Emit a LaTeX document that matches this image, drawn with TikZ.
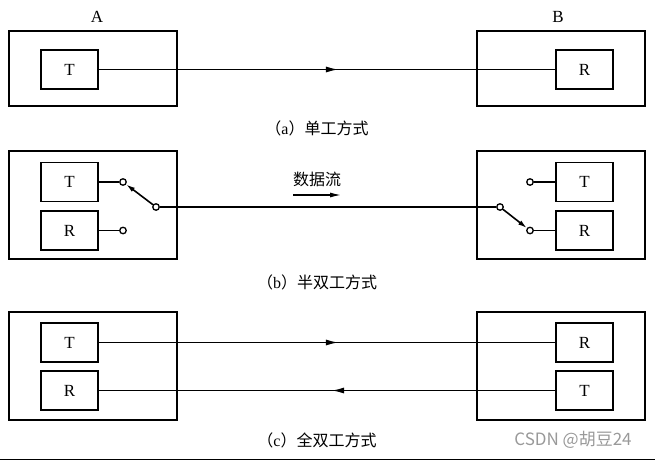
\documentclass[tikz,border=0pt]{standalone}
\usepackage{fontspec}
\setmainfont{Liberation Serif}
\newfontfamily\cjk{Noto Sans CJK SC}
\usetikzlibrary{arrows.meta,decorations.markings}
\tikzset{
  outer/.style={draw, line width=1.3pt, minimum width=168pt, minimum height=75pt, inner sep=0pt},
  outertall/.style={draw, line width=1.3pt, minimum width=168pt, minimum height=108pt, inner sep=0pt},
  unit/.style={draw, line width=1.3pt, minimum width=57pt, minimum height=39pt, inner sep=0pt, font=\fontsize{17}{17}\selectfont},
  contact/.style={circle, draw, line width=1.3pt, fill=white, minimum size=6.5pt, inner sep=0pt},
  wire/.style={line width=1.2pt},
  blade/.style={line width=1.6pt, -{Latex[length=9pt,width=5pt]}},
  midarrow/.style={wire, postaction={decorate}, decoration={markings, mark=at position #1 with {\arrow{Latex[length=12pt,width=6pt]}}}},
  caption/.style={font=\fontsize{16}{16}\selectfont},
  lbl/.style={font=\fontsize{17}{17}\selectfont}
}
\begin{document}
\begin{tikzpicture}[x=1pt,y=-1pt]
\useasboundingbox (0,0) rectangle (655,460);
% ---------- (a) ----------
\node[lbl] (labA) at (97,17) {A};
\node[lbl] (labB) at (558,17) {B};
\node[outer] (Aa) at (93,68.5) {};
\node[outer] (Ba) at (561,68.5) {};
\node[unit] (Ta) at (69.5,69.5) {T};
\node[unit] (Ra) at (584.5,69.5) {R};
\draw[midarrow=0.524] (Ta.east) -- (Ra.west);
\node[caption] (capa) at (317,128) {{\cjk （}a{\cjk ）单工方式}};
% ---------- (b) ----------
\node[outertall] (Ab) at (93,205) {};
\node[outertall] (Bb) at (561,205) {};
\node[unit] (TbL) at (69.5,182) {T};
\node[unit] (RbL) at (69.5,230.5) {R};
\node[unit] (TbR) at (584.5,182) {T};
\node[unit] (RbR) at (584.5,230.5) {R};
\node[contact] (cTL) at (123,182) {};
\node[contact] (cRL) at (123,230.5) {};
\node[contact] (pL) at (156,207) {};
\node[contact] (cTR) at (530,182) {};
\node[contact] (cRR) at (530,230.5) {};
\node[contact] (pR) at (500,207) {};
\draw[wire] (TbL.east) -- (cTL.west);
\draw[wire] (RbL.east) -- (cRL.west);
\draw[wire] (TbR.west) -- (cTR.east);
\draw[wire] (RbR.west) -- (cRR.east);
\draw[wire] (pL.east) -- (pR.west);
\draw[blade] (pL) -- (cTL);
\draw[blade] (pR) -- (cRR);
\node[caption] (flow) at (317,179) {\cjk 数据流};
\coordinate (fs) at (293,195);
\coordinate (fe) at (341,195);
\draw[wire, -{Latex[length=11pt,width=5pt]}] (fs) -- (fe);
\node[caption] (capb) at (317,282) {{\cjk （}b{\cjk ）半双工方式}};
% ---------- (c) ----------
\node[outertall] (Ac) at (93,366) {};
\node[outertall] (Bc) at (561,366) {};
\node[unit] (TcL) at (69.5,342.5) {T};
\node[unit] (RcL) at (69.5,390.5) {R};
\node[unit] (RcR) at (584.5,342.5) {R};
\node[unit] (TcR) at (584.5,390.5) {T};
\draw[midarrow=0.524] (TcL.east) -- (RcR.west);
\draw[midarrow=0.489] (TcR.west) -- (RcL.east);
\node[caption] (capc) at (317,440) {{\cjk （}c{\cjk ）全双工方式}};
\node[font=\cjk\fontsize{17}{17}\selectfont, text=black!40] (wm) at (573,440) {CSDN @胡豆24};
\draw[line width=1.2pt] (0,459.4) -- (655,459.4);
\end{tikzpicture}
\end{document}
